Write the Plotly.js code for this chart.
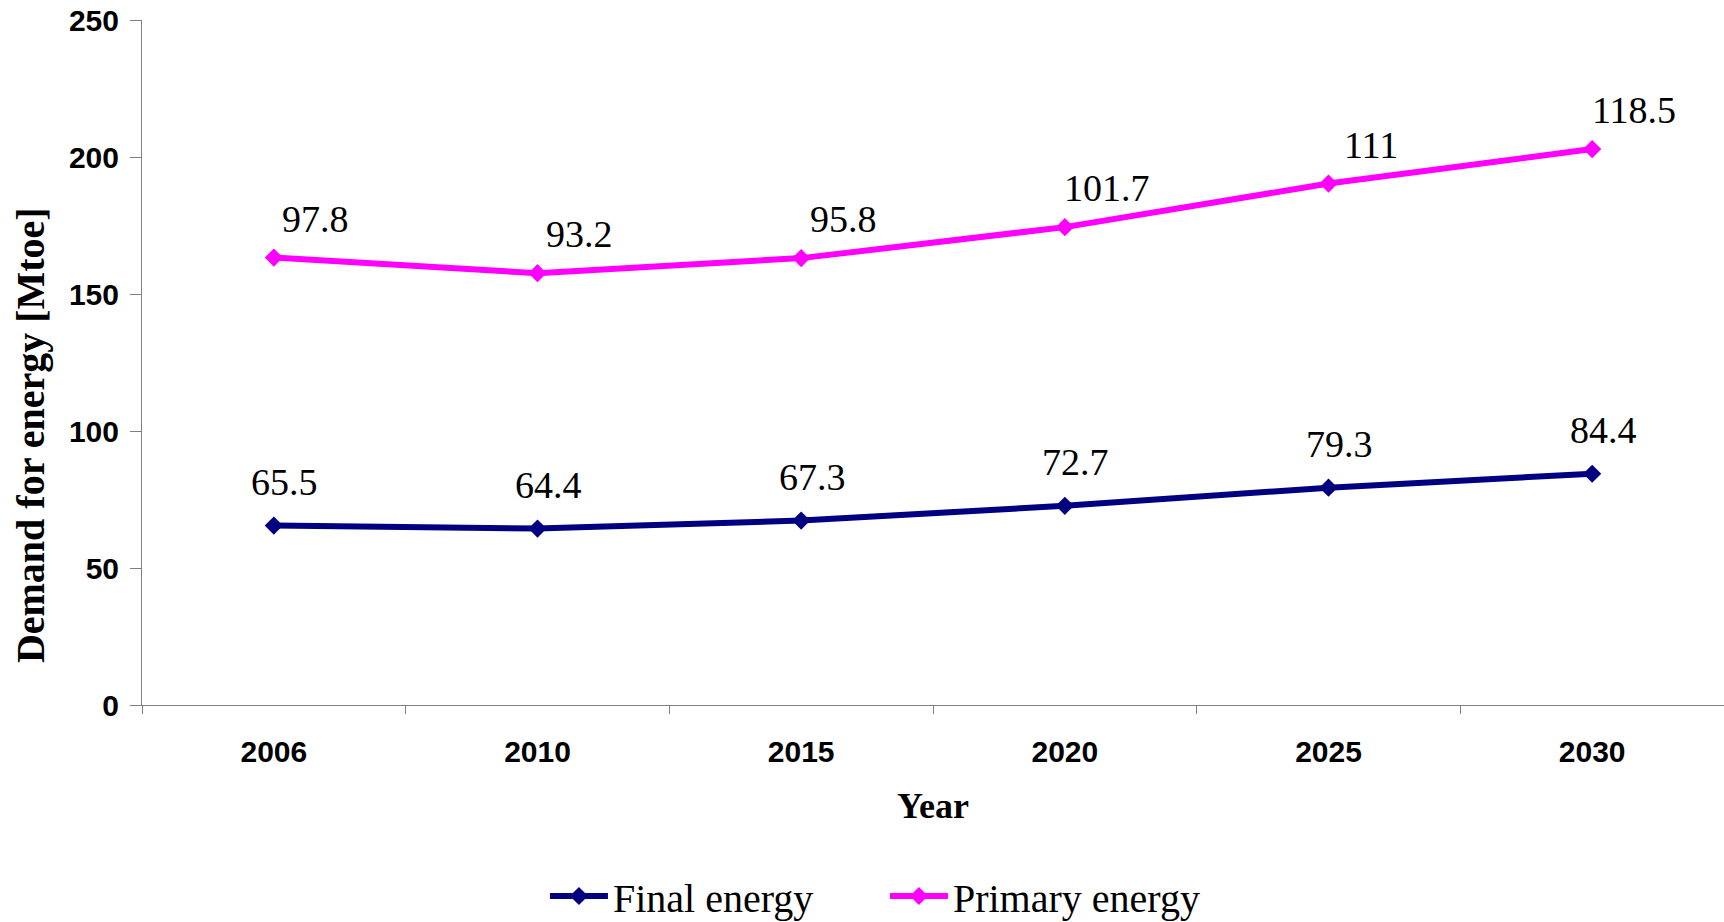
<!DOCTYPE html>
<html><head><meta charset="utf-8">
<script src="https://cdn.plot.ly/plotly-3.0.1.min.js"></script>
<style>html,body{margin:0;padding:0;background:#fff}#chart{width:1724px;height:922px}</style>
</head><body><div id="chart"></div>
<script>
const years = ['2006', '2010', '2015', '2020', '2025', '2030'];
const finalEnergy = [65.5, 64.4, 67.3, 72.7, 79.3, 84.4];
const primaryEnergy = [97.8, 93.2, 95.8, 101.7, 111, 118.5];
const yTickVals = [0, 50, 100, 150, 200, 250];
const seriesNames = ['Final energy', 'Primary energy'];
const seriesColors = ['#000080', '#FF00FF'];

const serif = 'Liberation Serif, Times New Roman, serif';
const sans = 'Liberation Sans, Arial, sans-serif';

function makeTrace(vals, i) {
  return {
    x: years, y: vals, name: seriesNames[i], type: 'scatter', mode: 'lines+markers',
    stackgroup: 'energy', fill: 'none',
    line: {color: seriesColors[i], width: 6},
    marker: {symbol: 'diamond', size: 14, color: seriesColors[i]},
    hoverinfo: 'skip'
  };
}
const data = [makeTrace(finalEnergy, 0), makeTrace(primaryEnergy, 1)];

const annotations = [];
years.forEach((yr, i) => {
  // category axis: x given as the category index of years[i]
  annotations.push({x: i, y: finalEnergy[i], xref: 'x', yref: 'y', text: String(finalEnergy[i]),
    showarrow: false, xanchor: 'center', yanchor: 'middle', xshift: 11, yshift: 44,
    font: {family: serif, size: 38, color: '#000'}});
  annotations.push({x: i, y: finalEnergy[i] + primaryEnergy[i], xref: 'x', yref: 'y', text: String(primaryEnergy[i]),
    showarrow: false, xanchor: 'center', yanchor: 'middle', xshift: 42, yshift: 39,
    font: {family: serif, size: 38, color: '#000'}});
});
annotations.push({text: 'Demand for energy [Mtoe]', xref: 'paper', yref: 'paper', x: -0.0708, y: 0.394,
  xanchor: 'center', yanchor: 'middle', textangle: -90, showarrow: false,
  font: {family: serif, size: 40, color: '#000', weight: 'bold'}});

const layout = {
  width: 1724, height: 922,
  margin: {l: 142, r: 0, t: 20, b: 217, autoexpand: false},
  paper_bgcolor: '#fff', plot_bgcolor: '#fff',
  showlegend: true,
  legend: {orientation: 'h', x: 0.2547, xanchor: 'left', y: -0.2788, yanchor: 'middle',
    font: {family: serif, size: 40, color: '#000'}, traceorder: 'normal',
    entrywidth: 267, entrywidthmode: 'pixels', itemwidth: 58},
  xaxis: {
    type: 'category', range: [-0.5, 5.5], showgrid: false, zeroline: false,
    showline: true, linecolor: '#808080', linewidth: 1, automargin: false,
    ticks: 'outside', tickson: 'boundaries', ticklen: 8, tickcolor: '#808080',
    tickfont: {family: sans, size: 30, color: '#000', weight: 'bold'},
    ticklabelstandoff: 20,
    title: {text: 'Year', standoff: 25, font: {family: serif, size: 36, color: '#000', weight: 'bold'}},
    fixedrange: true
  },
  yaxis: {
    range: [0, 250], tickvals: yTickVals, showgrid: false, zeroline: false,
    showline: true, linecolor: '#808080', linewidth: 1, automargin: false,
    ticks: 'outside', ticklen: 11, tickcolor: '#808080',
    tickfont: {family: sans, size: 30, color: '#000', weight: 'bold'},
    ticklabelstandoff: 5, fixedrange: true
  },
  annotations: annotations
};
Plotly.newPlot('chart', data, layout, {displayModeBar: false, staticPlot: true});
</script>
</body></html>
